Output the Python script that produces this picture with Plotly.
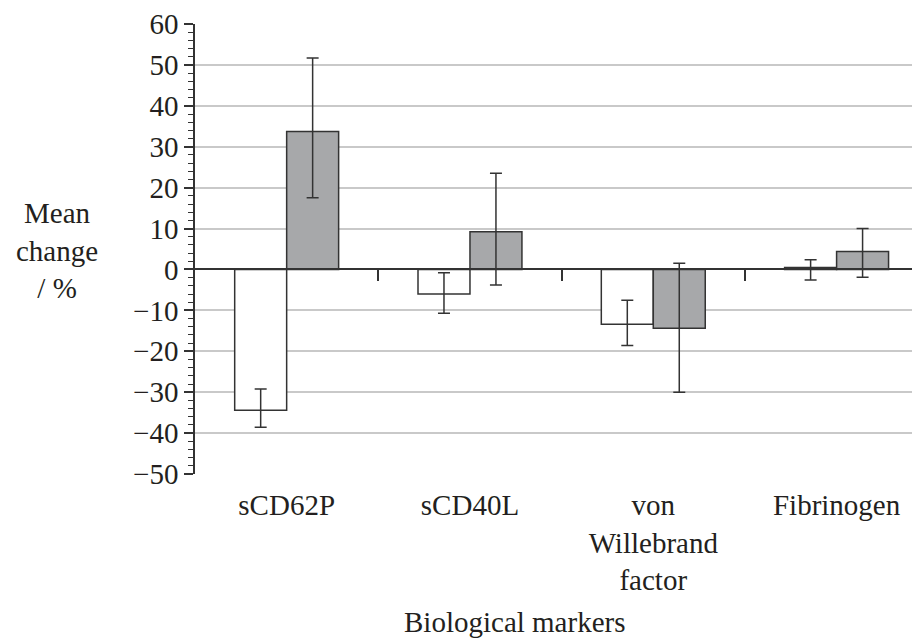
import plotly.graph_objects as go

categories = ["sCD62P", "sCD40L", "von<br>Willebrand<br>factor", "Fibrinogen"]
positions = [0, 1, 2, 3]
series1_values = [-34.4, -6.0, -13.4, 0.5]
series1_err_plus = [5.2, 5.2, 5.9, 1.9]
series1_err_minus = [4.2, 4.7, 5.2, 3.1]
series2_values = [33.7, 9.2, -14.4, 4.4]
series2_err_plus = [18.0, 14.3, 15.9, 5.6]
series2_err_minus = [16.2, 13.0, 15.6, 6.3]
y_ticks = [-50, -40, -30, -20, -10, 0, 10, 20, 30, 40, 50, 60]
group_boundaries = [0.5, 1.5, 2.5]

FONT = "Liberation Serif"
DARK = "#333333"
FS = 29
Y_MIN, Y_MAX = -50, 60

fig = go.Figure()
fig.add_trace(go.Bar(
    x=positions, y=series1_values, name="Series 1",
    marker=dict(color="white", line=dict(color=DARK, width=1.5)),
    error_y=dict(type="data", symmetric=False, array=series1_err_plus,
                 arrayminus=series1_err_minus, color=DARK, thickness=1.5, width=6),
    showlegend=False,
))
fig.add_trace(go.Bar(
    x=positions, y=series2_values, name="Series 2",
    marker=dict(color="#a7a8aa", line=dict(color=DARK, width=1.5)),
    error_y=dict(type="data", symmetric=False, array=series2_err_plus,
                 arrayminus=series2_err_minus, color=DARK, thickness=1.5, width=6),
    showlegend=False,
))
# invisible helper trace so the zero-line axis is drawn
fig.add_trace(go.Scatter(
    x=positions, y=[0] * len(positions), xaxis="x2", mode="markers",
    marker=dict(opacity=0), hoverinfo="skip", showlegend=False,
))

x_range = [-0.5, 3.455]
fig.update_layout(
    width=912, height=635,
    margin=dict(l=187, r=0, t=13, b=169),
    plot_bgcolor="white", paper_bgcolor="white",
    barmode="group", bargap=0.433, bargroupgap=0,
    font=dict(family=FONT, size=FS, color="#231f20"),
    xaxis=dict(
        range=x_range, tickvals=positions, ticktext=categories,
        showline=False, ticks="", showgrid=False, zeroline=False,
        ticklabelstandoff=11,
        tickfont=dict(family=FONT, size=FS),
    ),
    xaxis2=dict(
        range=x_range, overlaying="x", anchor="free",
        position=(0 - Y_MIN) / (Y_MAX - Y_MIN),
        tickvals=group_boundaries, ticks="outside", ticklen=11, tickwidth=1.5,
        tickcolor=DARK, showticklabels=False, showline=True,
        linecolor=DARK, linewidth=1.5, showgrid=False, zeroline=False,
    ),
    yaxis=dict(
        range=[Y_MIN, Y_MAX], tickvals=y_ticks,
        showline=True, linecolor=DARK, linewidth=1.5,
        ticks="outside", ticklen=9, tickwidth=1.5, tickcolor=DARK,
        minor=dict(dtick=2, tick0=0, ticks="outside", ticklen=5,
                   tickwidth=1.2, tickcolor=DARK, showgrid=False),
        showgrid=True, gridcolor="#c9c9c9", gridwidth=1.5,
        zeroline=False, ticklabeloverflow="allow",
        tickfont=dict(family=FONT, size=FS),
    ),
    annotations=[
        dict(text="Mean<br>change<br>/ %", xref="paper", yref="paper",
             x=-0.19, y=0.497, xanchor="center", yanchor="middle",
             showarrow=False, font=dict(family=FONT, size=FS)),
        dict(text="Biological markers", xref="paper", yref="paper",
             x=0.44, y=-0.329, xanchor="center", yanchor="middle",
             showarrow=False, font=dict(family=FONT, size=FS)),
    ],
)

fig.write_html("out.html")
